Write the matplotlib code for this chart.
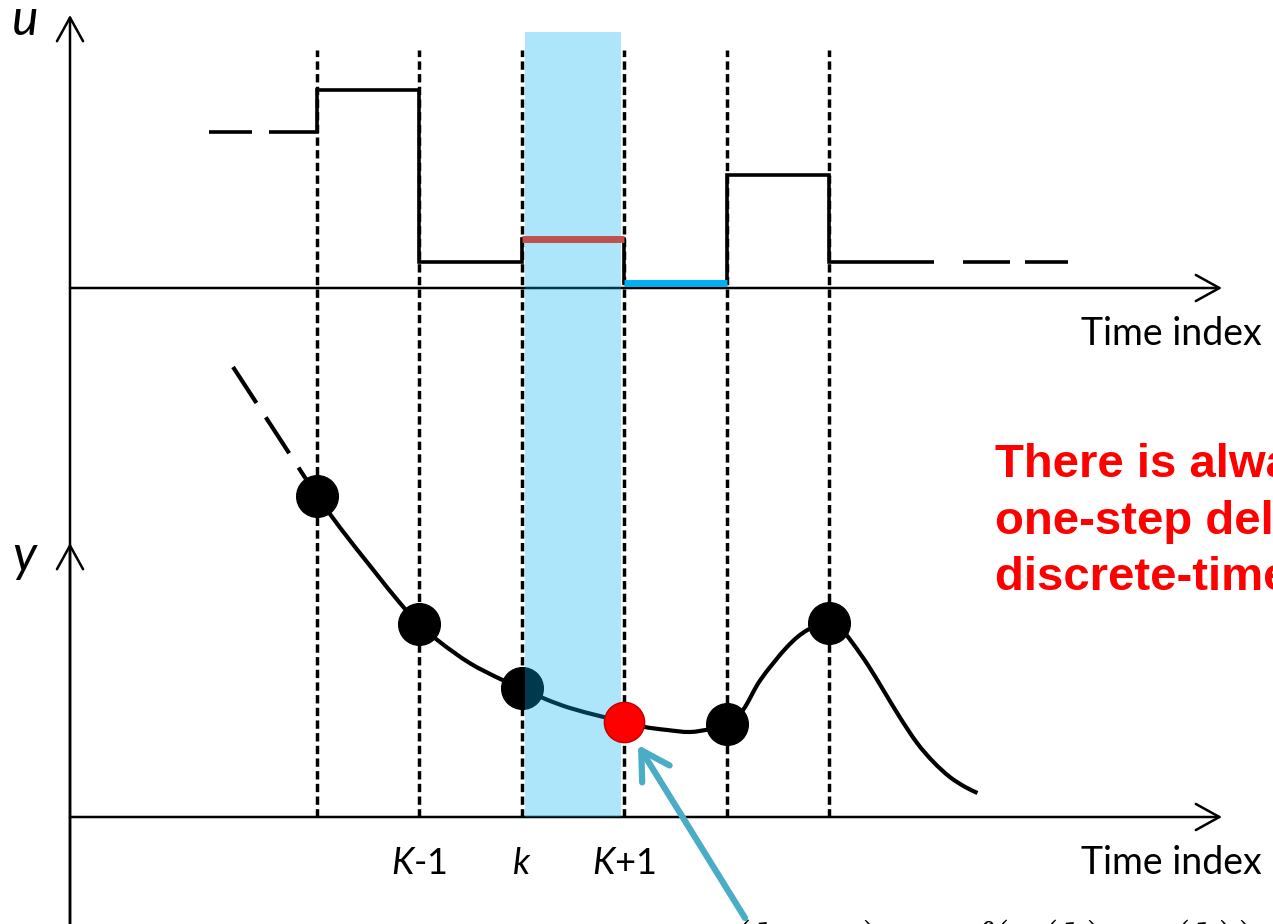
import matplotlib
matplotlib.use("Agg")
import matplotlib.pyplot as plt
from matplotlib.path import Path
from matplotlib.patches import PathPatch

plt.rcParams["mathtext.fontset"] = "custom"
plt.rcParams["mathtext.it"] = "Lato:italic"
plt.rcParams["mathtext.rm"] = "Lato"

W, H = 1273, 924

# sampling instants k-2 ... k+3
t_samples = [0, 1, 2, 3, 4, 5]
tick_labels = {1: "$K$-1", 2: "$k$", 3: "$K$+1"}

# piecewise-constant input u
u_edges = [-0.47, 0, 1, 2, 3, 4, 5, 6.03]
u_levels = [1.56, 1.98, 0.26, 0.49, 0.05, 1.13, 0.26]
u_lead_in = [(-1.055, -0.635)]
u_lead_out = [(6.31, 6.77), (6.91, 7.33)]
u_k = (2, 3, 0.49)     # u(k)
u_k1 = (3, 4, 0.05)    # u(k+1)

# sampled output y and the continuous response between samples
y_samples = [3.21, 1.93, 1.29, 0.95, 0.93, 1.94]
y_next = 3             # index of y(k+1)
curve_t = [0.00, 0.22, 0.55, 0.81, 1.00, 1.20, 1.49, 1.79, 2.00, 2.23, 2.47,
           2.76, 3.00, 3.20, 3.42, 3.64, 3.84, 4.00, 4.16, 4.33, 4.59, 4.79,
           5.00, 5.11, 5.23, 5.38, 5.53, 5.69, 5.86, 6.02, 6.18, 6.33, 6.45]
curve_y = [3.21, 2.90, 2.47, 2.14, 1.93, 1.75, 1.54, 1.38, 1.29, 1.18, 1.09,
           1.01, 0.95, 0.90, 0.87, 0.85, 0.88, 0.93, 1.07, 1.37, 1.70, 1.87,
           1.94, 1.89, 1.74, 1.52, 1.27, 1.00, 0.74, 0.55, 0.40, 0.30, 0.24]
lead_t = [-0.82, 0.00]
lead_y = [4.50, 3.21]

# layout: pixel frame of the drawing
X0, DX = 317, 102.4          # x pixel of t=0, pixels per step
U0, Y0, S = 288, 817, 100.0  # baselines of both panels, pixels per unit
AXIS_X = 70


def tx(px):
    return (px - X0) / DX


def px(x, y):
    return x / W, 1 - y / H


def smooth_path(xs, ys):
    """Cubic Bezier path through the given points (Catmull-Rom tangents)."""
    n = len(xs)
    verts = [(xs[0], ys[0])]
    codes = [Path.MOVETO]
    for i in range(n - 1):
        a, b = max(i - 1, 0), min(i + 2, n - 1)
        c1 = (xs[i] + (xs[i + 1] - xs[a]) / 6, ys[i] + (ys[i + 1] - ys[a]) / 6)
        c2 = (xs[i + 1] - (xs[b] - xs[i]) / 6, ys[i + 1] - (ys[b] - ys[i]) / 6)
        verts += [c1, c2, (xs[i + 1], ys[i + 1])]
        codes += [Path.CURVE4] * 3
    return Path(verts, codes)


fig = plt.figure(figsize=(W / 100, H / 100), dpi=100)
ax_y = fig.add_axes([0, 0, 1, 1])
ax_u = fig.add_axes([0, 0, 1, 1])
ax_y.set_zorder(0)
ax_u.set_zorder(1)
for ax in (ax_u, ax_y):
    ax.set_axis_off()
    ax.patch.set_alpha(0)
    ax.set_xlim(tx(0), tx(W))
ax_u.set_ylim(-(H - U0) / S, U0 / S)
ax_y.set_ylim(-(H - Y0) / S, Y0 / S)

# dashed sampling lines through both panels
ax_y.vlines(t_samples, 0, (Y0 - 50) / S, colors="black", lw=2.5,
            linestyles=(0, (2.4, 1.25)), zorder=1)

# axes with open arrow heads
arrow_kw = dict(arrowstyle="->,head_length=0.85,head_width=0.47",
                lw=1.8, color="black", shrinkA=0, shrinkB=0,
                mutation_scale=20)
ax_y.annotate("", xy=(tx(AXIS_X), (U0 - 15) / S + (Y0 - U0) / S),
              xytext=(tx(AXIS_X), -(H - Y0) / S), arrowprops=arrow_kw, zorder=2)
ax_y.annotate("", xy=(tx(AXIS_X), (Y0 - 543) / S),
              xytext=(tx(AXIS_X), -(H - Y0) / S), arrowprops=arrow_kw, zorder=2)
ax_y.annotate("", xy=(tx(1222), (Y0 - U0) / S), xytext=(tx(AXIS_X), (Y0 - U0) / S),
              arrowprops=arrow_kw, zorder=2)
ax_y.annotate("", xy=(tx(1222), 0), xytext=(tx(AXIS_X), 0),
              arrowprops=arrow_kw, zorder=2)

# output trace and samples
ax_y.plot(lead_t, lead_y, color="black", lw=3, linestyle=(0, (10.3, 4.1)),
          zorder=3)
ax_y.add_patch(PathPatch(smooth_path(curve_t, curve_y), fill=False,
                         edgecolor="black", lw=3, zorder=3))
black_idx = [i for i in range(len(t_samples)) if i != y_next]
ax_y.plot([t_samples[i] for i in black_idx], [y_samples[i] for i in black_idx],
          "o", color="black", ms=30, zorder=4)

# highlighted interval [k, k+1)
ax_y.fill_between([tx(525), tx(621)], 0, (Y0 - 32) / S, color="#00b0f0",
                  alpha=0.32, lw=0, zorder=5)

ax_y.plot(t_samples[y_next], y_samples[y_next], "o", color="#ff0000",
          mec="#c00000", mew=1, ms=29, zorder=6)

# input staircase (drawn above the highlighted interval)
ax_u.stairs(u_levels, u_edges, baseline=None, color="black", lw=2.6, zorder=3)
for a, b in u_lead_in + u_lead_out:
    ax_u.hlines(u_levels[0] if b < 0 else u_levels[-1], a, b,
                colors="black", lw=2.6, zorder=3)
ax_u.hlines(u_k[2], u_k[0], u_k[1], colors="#c0504d", lw=5, zorder=6)
ax_u.hlines(u_k1[2], u_k1[0], u_k1[1], colors="#00b0f0", lw=5, zorder=6)

# pointer to y(k+1)
ax_u.annotate("", xy=(tx(638), (U0 - 745) / S), xytext=(tx(745), (U0 - 918) / S),
              arrowprops=dict(arrowstyle="->,head_length=1.0,head_width=0.58",
                              lw=4.5, color="#4bacc6", shrinkA=0, shrinkB=0,
                              mutation_scale=20, capstyle="round"),
              zorder=7)

# text
fig.text(*px(12, 35), "u", family="Lato", style="italic", fontsize=36,
         va="baseline")
fig.text(*px(12, 571), "y", family="Lato", style="italic", fontsize=36,
         va="baseline")
for yb in (345, 874):
    fig.text(*px(1081, yb), "Time index", family="Lato", fontsize=27,
             va="baseline")
for t, lab in tick_labels.items():
    ax_y.text(t, (Y0 - 874) / S, lab, family="Lato", fontsize=26,
              ha="center", va="baseline")

red_lines = ["There is always a", "one-step delay in", "discrete-time systems"]
for i, line in enumerate(red_lines):
    fig.text(*px(995, 477 + 56.5 * i), line, family="Liberation Sans",
             weight="bold", fontsize=34, color="#ff0000", va="baseline")

fig.text(*px(706, 958), r"$y(k+1)\;=\;f(x(k),\;u(k))$", math_fontfamily="cm",
         fontsize=37, va="baseline")

fig.savefig("out.png", dpi=100)
